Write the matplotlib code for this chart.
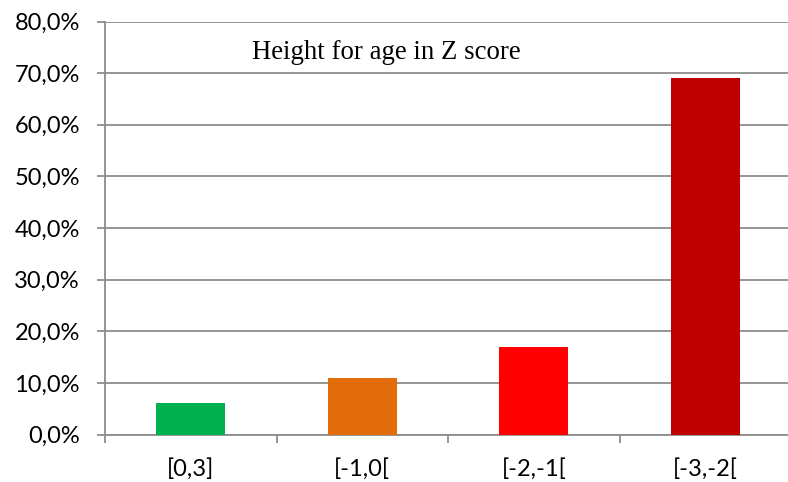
import matplotlib.pyplot as plt
from matplotlib.ticker import FuncFormatter, FixedLocator

# Data
categories = ['[0,3]', '[-1,0[', '[-2,-1[', '[-3,-2[']
values = [6.1, 10.9, 17.0, 69.0]
colors = ['#00b050', '#e36c0a', '#ff0000', '#c00000']

fig = plt.figure(figsize=(7.88, 4.82), dpi=100)
ax = fig.add_axes([105 / 788, 1 - 434.5 / 482, (791 - 105) / 788, (434.5 - 21.5) / 482])

x = range(len(categories))
ax.bar(x, values, width=0.404, color=colors, zorder=3)

ax.set_xlim(-0.5, len(categories) - 0.5)
ax.set_ylim(0, 80)
ax.set_yticks(range(0, 81, 10))
ax.yaxis.set_major_formatter(FuncFormatter(lambda v, p: f'{v:.1f}%'.replace('.', ',')))
ax.grid(axis='y', color='#8c8c8c', linewidth=1.3, zorder=0)

# category ticks sit between the bars, labels centred under them
ax.set_xticks(list(x))
ax.set_xticklabels(categories)
ax.xaxis.set_minor_locator(FixedLocator([i - 0.5 for i in range(len(categories) + 1)]))
ax.tick_params(axis='x', which='major', length=0, pad=17)
ax.tick_params(axis='x', which='minor', length=6, color='#8c8c8c', width=1.3)
ax.tick_params(axis='y', length=6, color='#8c8c8c', width=1.3, pad=12)
for lbl in ax.get_xticklabels() + ax.get_yticklabels():
    lbl.set_fontfamily('Lato')
    lbl.set_fontsize(17)
    lbl.set_color('black')

for side in ['top', 'right']:
    ax.spines[side].set_visible(False)
for side in ['left', 'bottom']:
    ax.spines[side].set_color('#8c8c8c')
    ax.spines[side].set_linewidth(1.3)

ax.text(0.41, 0.926, 'Height for age in Z score', transform=ax.transAxes,
        ha='center', va='center', fontfamily='Liberation Serif', fontsize=19.3)

fig.savefig('out.png', dpi=100)
